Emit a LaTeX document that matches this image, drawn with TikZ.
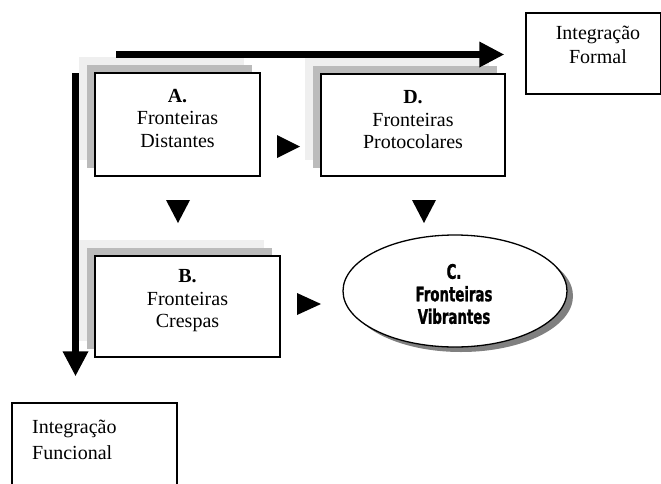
\documentclass[tikz,border=0pt]{standalone}
\usepackage{fontspec}
\setmainfont{Liberation Serif}
\newfontfamily\cfont{DejaVu Sans Condensed Bold}[FakeStretch=0.74,FakeBold=1.2]
\usetikzlibrary{arrows.meta,calc,shapes.geometric}
\definecolor{lightsh}{HTML}{EFEFEF}
\definecolor{midsh}{HTML}{BBBBBB}
\definecolor{ellsh}{HTML}{808080}
\begin{document}
\begin{tikzpicture}[x=1pt,y=-1pt,
  frame/.style={draw=black,line width=1.3pt,fill=white,inner sep=0pt,rectangle},
  shbox/.style={fill=#1,draw=none,inner sep=0pt,rectangle},
  txt/.style={align=center,inner sep=0pt,font=\fontsize{20pt}{22.5pt}\selectfont},
  ctxt/.style={align=center,inner sep=0pt,font=\cfont\fontsize{20pt}{22.5pt}\selectfont},
  bigarrow/.style={line width=7pt,-{Triangle[width=24pt,length=25pt]}},
  tri/.style={fill=black}]
\useasboundingbox (0,0) rectangle (661,483);

% --- Box A with layered shadows
\node[shbox=lightsh,minimum width=165pt,minimum height=103pt] (Al) at (177.5-16,124.5-16) {};
\node[shbox=midsh,minimum width=165pt,minimum height=103pt] (Am) at (177.5-8,124.5-8) {};
\node[frame,minimum width=165pt,minimum height=103pt] (A) at (177.5,124.5) {};
\node[txt] (At) at (177.5,118) {\textbf{A.}\\Fronteiras\\Distantes};

% --- Box D
\node[shbox=lightsh,minimum width=184pt,minimum height=102pt] (Dl) at (413-16,125-16) {};
\node[shbox=midsh,minimum width=184pt,minimum height=102pt] (Dm) at (413-8,125-8) {};
\node[frame,minimum width=184pt,minimum height=102pt] (D) at (413,125) {};
\node[txt] (Dt) at (413,119.6) {\textbf{D.}\\Fronteiras\\Protocolares};

% --- Box B
\node[shbox=lightsh,minimum width=185pt,minimum height=101pt] (Bl) at (187.5-16,306.5-16) {};
\node[shbox=midsh,minimum width=185pt,minimum height=101pt] (Bm) at (187.5-8,306.5-8) {};
\node[frame,minimum width=185pt,minimum height=101pt] (B) at (187.5,306.5) {};
\node[txt] (Bt) at (187.5,301) {\textbf{B.}\\Fronteiras\\Crespas};

% --- Ellipse C
\node[ellipse,fill=ellsh,draw=none,minimum width=224pt,minimum height=112pt,inner sep=0pt] (Cs) at (461,296) {};
\node[ellipse,draw=black,line width=1.3pt,fill=white,minimum width=224pt,minimum height=112pt,inner sep=0pt] (C) at (455,291) {};
\node[ctxt] (Ct) at (454,294) {C.\\Fronteiras\\Vibrantes};

% --- Integration boxes
\node[frame,minimum width=134.3pt,minimum height=81pt] (formal) at (593.15,53.5) {};
\node[txt,font=\fontsize{20pt}{24pt}\selectfont] (formalt) at (598,44.4) {Integração\\Formal};
\node[frame,minimum width=165pt,minimum height=87pt] (funcional) at (94.5,446.5) {};
\node[txt,align=left,anchor=west,font=\fontsize{20pt}{26pt}\selectfont] (funcionalt) at (32,439.4) {Integração\\Funcional};

% --- Big arrows
\coordinate (hstart) at (116,54.5);
\coordinate (vstart) at (75.5,73);
\draw[bigarrow,shorten >=21pt] (hstart) -- (hstart -| formal.west);
\draw[bigarrow,shorten >=26pt] (vstart) -- (vstart |- funcional.north);

% --- Small triangles
\fill[tri] (277,135) -- (277,158) -- (300,146.5) -- cycle;
\fill[tri] (166,200) -- (190,200) -- (178,223) -- cycle;
\fill[tri] (412,200) -- (436,200) -- (424,223) -- cycle;
\fill[tri] (297,293) -- (297,315) -- (321,304) -- cycle;
\end{tikzpicture}
\end{document}
